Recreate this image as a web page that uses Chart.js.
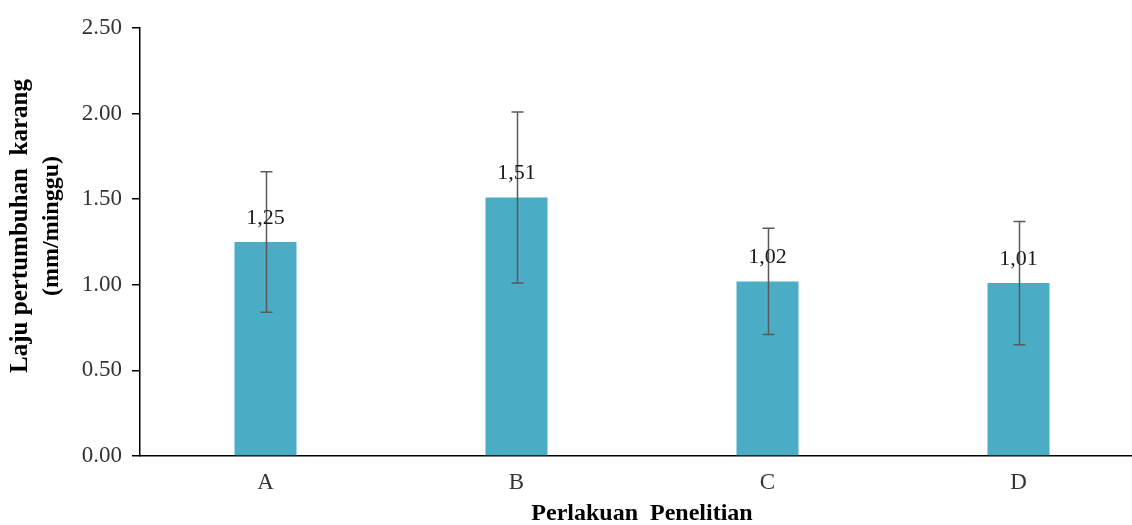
<!DOCTYPE html>
<html>
<head>
<meta charset="utf-8">
<title>Laju pertumbuhan karang</title>
<script src="https://cdn.jsdelivr.net/npm/chart.js@4/dist/chart.umd.min.js"></script>
<style>
  html, body { margin: 0; padding: 0; background: #ffffff; overflow: hidden; }
  canvas { display: block; }
</style>
</head>
<body>
<canvas id="chart" width="1150" height="525"></canvas>
<script>
// Treatments and mean coral growth rate (mm/week) with standard deviation
const categories = ['A', 'B', 'C', 'D'];
const growthRate = [1.25, 1.51, 1.02, 1.01];
const stdDev = [0.41, 0.50, 0.31, 0.36];
const yTicks = [0, 0.5, 1.0, 1.5, 2.0, 2.5];

const yTitleLines = ['Laju pertumbuhan  karang', '(mm/minggu)'];
const xTitle = 'Perlakuan  Penelitian';

const SERIF = '"Liberation Serif", "Times New Roman", serif';

// Error bars, value labels and axis titles
const annotate = {
  id: 'annotate',
  afterDatasetsDraw(chart) {
    const ctx = chart.ctx;
    const y = chart.scales.y;
    const meta = chart.getDatasetMeta(0);
    ctx.save();
    meta.data.forEach((bar, i) => {
      const v = growthRate[i];
      const e = stdDev[i];
      const x = Math.round(bar.x) + 0.5;
      const top = y.getPixelForValue(v + e);
      const bot = y.getPixelForValue(v - e);
      ctx.strokeStyle = '#5a5a5a';
      ctx.lineWidth = 1.5;
      ctx.beginPath();
      ctx.moveTo(x, top); ctx.lineTo(x, bot);
      ctx.moveTo(x - 6, top); ctx.lineTo(x + 6, top);
      ctx.moveTo(x - 6, bot); ctx.lineTo(x + 6, bot);
      ctx.stroke();

      ctx.fillStyle = '#1a1a1a';
      ctx.font = '22px ' + SERIF;
      ctx.textAlign = 'center';
      ctx.textBaseline = 'alphabetic';
      ctx.fillText(v.toFixed(2).replace('.', ','), bar.x, y.getPixelForValue(v) - 18);
    });
    ctx.restore();
  },
  afterDraw(chart) {
    const ctx = chart.ctx;
    const area = chart.chartArea;
    ctx.save();
    ctx.fillStyle = '#000000';
    ctx.font = 'bold 24px ' + SERIF;
    ctx.textAlign = 'center';
    ctx.textBaseline = 'middle';
    ctx.fillText(xTitle, (area.left + area.right) / 2, 514);

    ctx.translate(0, 226);
    ctx.rotate(-Math.PI / 2);
    ctx.font = 'bold 25px ' + SERIF;
    ctx.fillText(yTitleLines[0], 0, 21);
    ctx.font = 'bold 24px ' + SERIF;
    ctx.fillText(yTitleLines[1], 0, 52);
    ctx.restore();
  }
};

new Chart(document.getElementById('chart'), {
  type: 'bar',
  data: {
    labels: categories,
    datasets: [{
      data: growthRate,
      backgroundColor: '#4bacc6',
      borderWidth: 0,
      categoryPercentage: 1.0,
      barPercentage: 0.247
    }]
  },
  options: {
    responsive: false,
    animation: false,
    devicePixelRatio: 1,
    layout: { padding: { top: 28, right: 6, left: 0, bottom: 0 } },
    plugins: {
      legend: { display: false },
      tooltip: { enabled: false }
    },
    scales: {
      x: {
        grid: { display: false, drawTicks: false },
        border: { display: true, color: '#000000', width: 1.5 },
        ticks: {
          color: '#333333',
          font: { family: SERIF, size: 23 },
          padding: 13
        },
        afterFit(scale) { scale.height = 69; }
      },
      y: {
        min: 0,
        max: 2.5,
        afterBuildTicks(scale) { scale.ticks = yTicks.map(v => ({ value: v })); },
        grid: { drawOnChartArea: false, drawTicks: true, tickLength: 8, color: '#000000', lineWidth: 1.5 },
        border: { display: true, color: '#000000', width: 1.5 },
        ticks: {
          color: '#333333',
          font: { family: SERIF, size: 23 },
          padding: 10,
          callback: v => Number(v).toFixed(2)
        },
        afterFit(scale) { scale.width = 140; }
      }
    }
  },
  plugins: [annotate]
});
</script>
</body>
</html>
